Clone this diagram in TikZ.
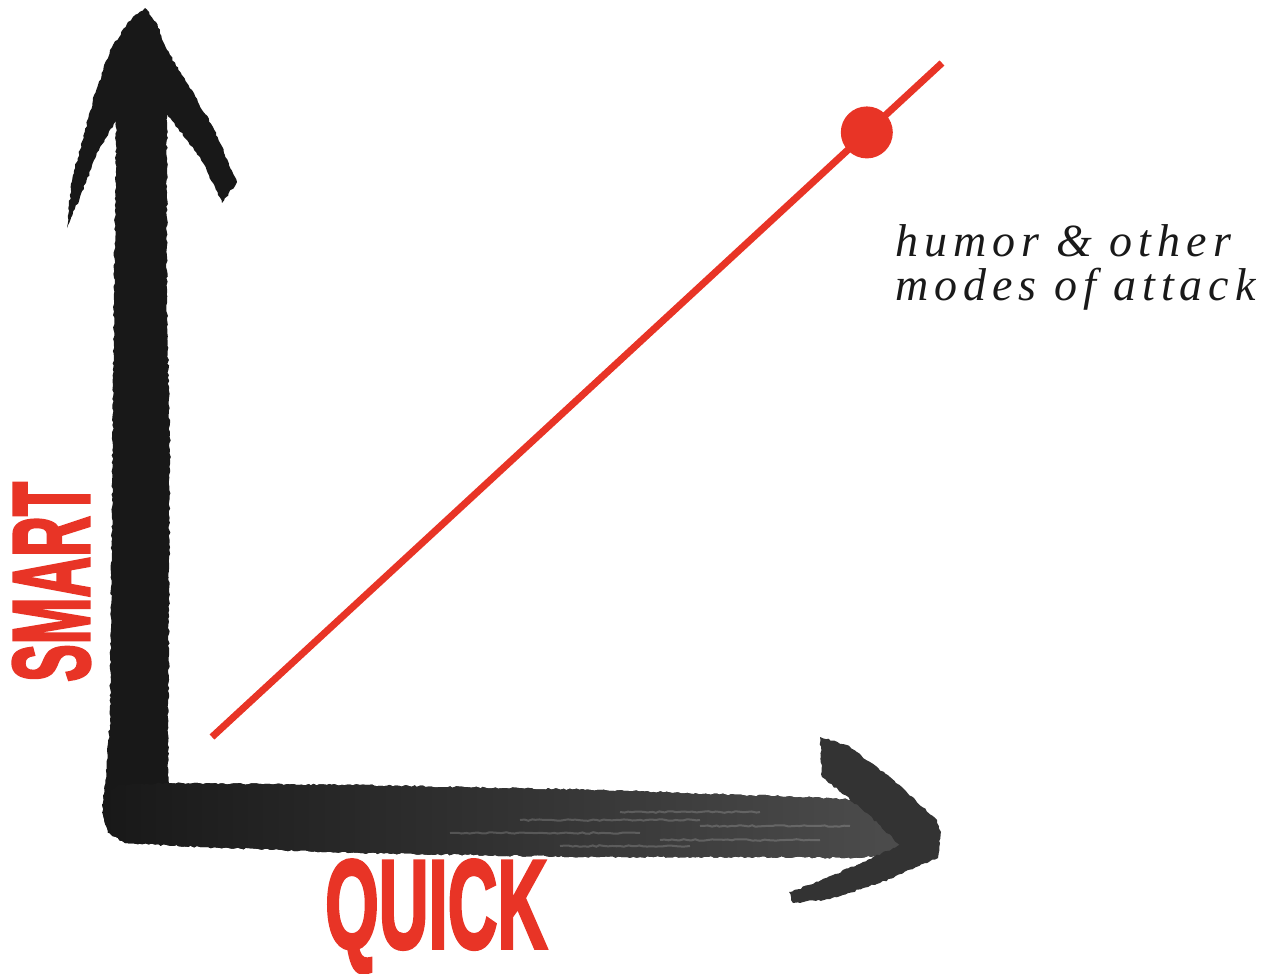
\documentclass[tikz,border=0pt]{standalone}
\usepackage{fontspec}
\usepackage{graphicx}
\usetikzlibrary{decorations.pathmorphing}
\definecolor{red1}{RGB}{232, 52, 38}
\definecolor{ink1}{RGB}{24, 24, 24}
\newfontfamily\axisfont{Liberation Sans}[BoldFeatures={FakeBold=3}]
\newfontfamily\notefont{Liberation Serif}[LetterSpace=13]

\tikzset{
  brush/.style={fill=ink1, decorate, decoration={random steps, segment length=3pt, amplitude=0.9pt}},
  streak/.style={white, opacity=0.18, line width=2pt, decorate, decoration={random steps, segment length=4pt, amplitude=0.8pt}},
  axislabel/.style={text=red1, inner sep=0pt, font=\axisfont\bfseries},
  notetext/.style={text=black!90, inner sep=0pt, align=left, font=\notefont\itshape\fontsize{46}{44}\selectfont},
  dot/.style={circle, fill=red1, minimum size=52pt, inner sep=0pt},
}

\begin{document}
\begin{tikzpicture}[x=1pt, y=-1pt]
  \useasboundingbox (0,0) rectangle (1278,974);

  % vertical brush arrow
  \path[brush] (145,8) -- (128,22) -- (110,50) -- (93,100) -- (80,150) -- (73,175) -- (69,205) -- (67,228)
    -- (80,197) -- (100,147) -- (116,121) -- (114,300) -- (112,500) -- (110,720) -- (104,800) -- (104,815)
    -- (168,815) -- (168,790) -- (170,450) -- (167,300) -- (167,114) -- (200,157) -- (222,203) -- (237,182)
    -- (213,127) -- (187,83) -- (167,50) -- (156,22) -- cycle;

  % horizontal brush arrow
  \path[brush, left color=ink1, right color=black!70] (103,795) -- (120,785) -- (167,783) -- (360,785) -- (600,790)
    -- (800,797) -- (860,800) -- (905,840) -- (900,852) -- (860,858) -- (780,857) -- (600,857) -- (360,853)
    -- (200,847) -- (125,843) -- (108,833) -- (103,815) -- cycle;
  \foreach \y/\a/\b in {812/620/760, 820/520/700, 826/700/850, 833/450/640, 840/660/820, 846/560/690}
    \draw[streak] (\a,\y) -- (\b,\y);
  \path[brush, fill=black!80] (820,737) -- (847,745) -- (890,777) -- (937,820) -- (941,832) -- (938,858)
    -- (880,883) -- (830,899) -- (793,903) -- (789,892) -- (813,884) -- (863,862) -- (900,845)
    -- (867,813) -- (822,777) -- cycle;

  \coordinate (low) at (212,737);
  \coordinate (high) at (942,63);
  \draw[red1, line width=7pt] (low) -- node[dot, pos=0.897] (mark) {} (high);

  \node[axislabel, rotate=90, anchor=base west] (smart) at (89,682) {\resizebox{200pt}{76pt}{SMART}};
  \node[axislabel, anchor=base west] (quick) at (325,948) {\resizebox{222pt}{88pt}{QUICK}};
  \node[notetext, anchor=base west] (note) at (895,300) {humor \& other\\modes of attack};
\end{tikzpicture}
\end{document}
